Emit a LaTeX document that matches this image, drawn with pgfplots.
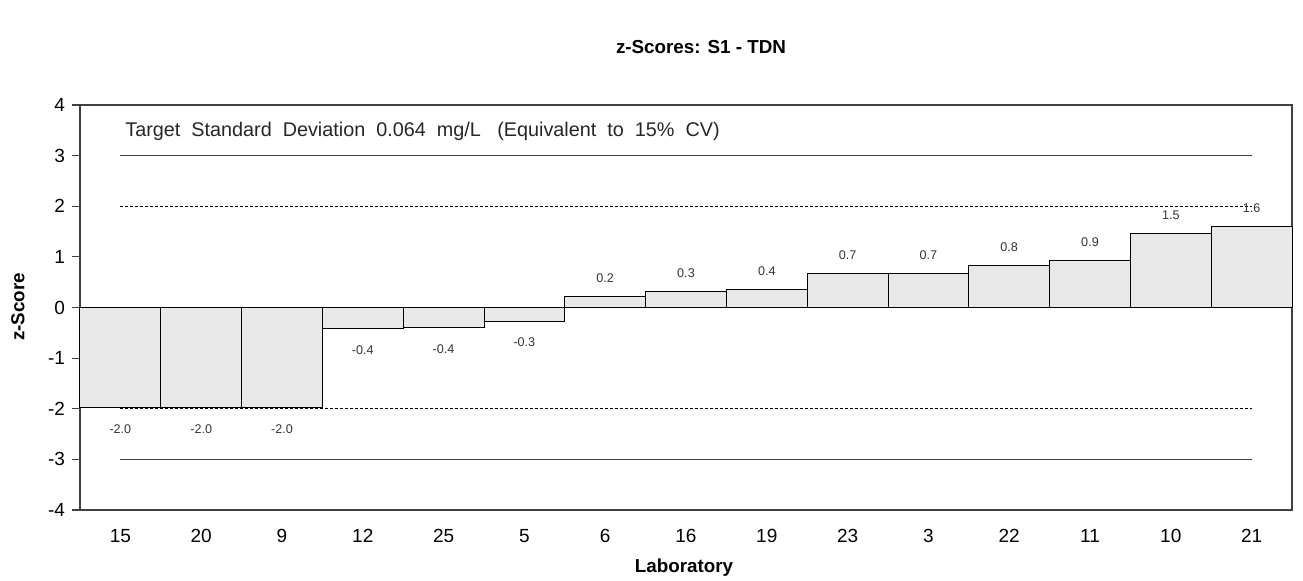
\documentclass[border=0pt]{standalone}
\usepackage{pgfplots}
\pgfplotsset{compat=1.18}
\usepackage{fontspec}
\setmainfont{Liberation Sans}
\definecolor{barfill}{HTML}{E8E8E8}
\definecolor{linec}{HTML}{404040}
\begin{document}
\begin{tikzpicture}
\useasboundingbox (0pt,0pt) rectangle (651.5pt,290pt);
\begin{axis}[
  at={(40pt,35pt)}, anchor=south west,
  scale only axis, width=606pt, height=202.5pt,
  xmin=-0.5, xmax=14.5, ymin=-4, ymax=4,
  xtick={0,...,14},
  xticklabels={15,20,9,12,25,5,6,16,19,23,3,22,11,10,21},
  ytick={-4,-3,-2,-1,0,1,2,3,4},
  yticklabels={-4,-3,-2,-1,0,1,2,3,4},
  ytick pos=left,
  major x tick style={draw=none},
  major y tick style={linec, line width=0.6pt},
  tick align=outside, major tick length=4pt,
  axis line style={linec, line width=0.7pt},
  tick label style={font=\fontsize{9.5}{11}\selectfont},
  xticklabel style={yshift=-2pt},
  clip=false,
]
\addplot[ybar, bar width=1, bar shift=0pt, fill=barfill, draw=black, line width=0.5pt]
coordinates {(0,-1.98) (1,-1.98) (2,-1.98) (3,-0.42) (4,-0.40) (5,-0.27) (6,0.22) (7,0.32) (8,0.36) (9,0.67) (10,0.67) (11,0.83) (12,0.93) (13,1.46) (14,1.60)};
\addplot[linec, line width=0.6pt] coordinates {(0,3) (14,3)};
\addplot[linec, line width=0.6pt] coordinates {(0,-3) (14,-3)};
\addplot[black, line width=0.5pt, dash pattern=on 1.5pt off 1pt] coordinates {(0,2) (14,2)};
\addplot[black, line width=0.5pt, dash pattern=on 1.5pt off 1pt] coordinates {(0,-2) (14,-2)};
\addplot[draw=none, mark=none, nodes near coords, point meta=explicit symbolic,
  every node near coord/.append style={font=\fontsize{6.3}{7}\selectfont, anchor=center, yshift=-10.5pt, text=black!80}]
coordinates {(0,-1.98)[-2.0] (1,-1.98)[-2.0] (2,-1.98)[-2.0] (3,-0.42)[-0.4] (4,-0.40)[-0.4] (5,-0.27)[-0.3]};
\addplot[draw=none, mark=none, nodes near coords, point meta=explicit symbolic,
  every node near coord/.append style={font=\fontsize{6.3}{7}\selectfont, anchor=center, yshift=9pt, text=black!80}]
coordinates {(6,0.22)[0.2] (7,0.32)[0.3] (8,0.36)[0.4] (9,0.67)[0.7] (10,0.67)[0.7] (11,0.83)[0.8] (12,0.93)[0.9] (13,1.46)[1.5] (14,1.60)[1.6]};
\end{axis}
\node[font=\fontsize{9.4}{11}\selectfont\bfseries] at (350.5pt,266.5pt) {z-Scores: S1 - TDN};
\node[font=\fontsize{9.4}{11}\selectfont\bfseries] at (342pt,6pt) {Laboratory};
\node[font=\fontsize{9.4}{11}\selectfont\bfseries, rotate=90] at (9pt,136.5pt) {z-Score};
\node[font=\fontsize{9.9}{11}\selectfont, anchor=west, inner sep=0pt, text=black!85] at (62.5pt,224.5pt) {Target\ \ Standard\ \ Deviation\ \ 0.064\ \ mg/L\ \ \ (Equivalent\ \ to\ \ 15\%\ \ CV)};
\end{tikzpicture}
\end{document}
